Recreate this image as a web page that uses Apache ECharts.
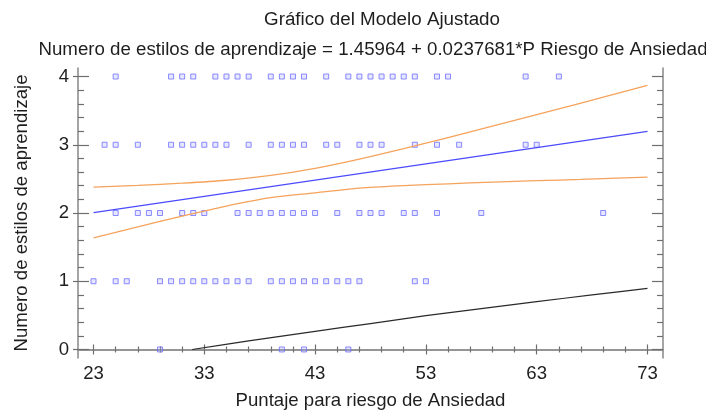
<!DOCTYPE html>
<html>
<head>
<meta charset="utf-8">
<script src="https://cdn.jsdelivr.net/npm/echarts@6/dist/echarts.min.js"></script>
<style>
  html, body { margin: 0; padding: 0; background: #ffffff; }
  #chart { width: 706px; height: 412px; }
</style>
</head>
<body>
<div id="chart"></div>
<script>
// Observed learning-style counts (y) against anxiety-risk score (x), grouped by count
const scoresAt4 = [25, 30, 31, 32, 34, 35, 36, 37, 39, 40, 41, 42, 44, 46, 47, 48, 49, 50, 51, 52, 54, 55, 62, 65];
const scoresAt3 = [24, 25, 27, 30, 31, 32, 33, 34, 35, 37, 39, 40, 41, 42, 44, 45, 47, 48, 49, 52, 54, 56, 62, 63];
const scoresAt2 = [25, 27, 28, 29, 31, 32, 33, 36, 37, 38, 39, 40, 41, 42, 43, 45, 47, 48, 49, 51, 52, 54, 58, 69];
const scoresAt1 = [23, 25, 26, 29, 30, 31, 32, 33, 34, 35, 36, 37, 39, 40, 41, 42, 43, 44, 45, 46, 47, 52, 53];
const scoresAt0 = [29, 40, 42, 46];

// Fitted model: y = 1.45964 + 0.0237681 * x, drawn over the score range
const intercept = 1.45964;
const slope = 0.0237681;
const fitX = [23, 73];

// Confidence limits for the mean response
const bandX = [23, 27, 31, 35, 39, 43, 47, 51, 55, 59, 63, 67, 73];
const bandUpper = [2.38, 2.405, 2.437, 2.48, 2.55, 2.654, 2.79, 2.943, 3.106, 3.272, 3.441, 3.612, 3.87];
const bandLower = [1.635, 1.797, 1.955, 2.102, 2.224, 2.295, 2.364, 2.401, 2.428, 2.452, 2.473, 2.492, 2.525];

// Lower prediction limit
const predX = [31.9, 37, 43, 48, 53, 58, 63, 68, 73];
const predLower = [0.0, 0.125, 0.266, 0.38, 0.495, 0.598, 0.70, 0.80, 0.895];

// Axis ticks
const xMajor = [23, 33, 43, 53, 63, 73];
const yMajor = [0, 1, 2, 3, 4];

const titleText = 'Gráfico del Modelo Ajustado';
const subtitleText = 'Numero de estilos de aprendizaje = 1.45964 + 0.0237681*P Riesgo de Ansiedad';
const xName = 'Puntaje para riesgo de Ansiedad';
const yName = 'Numero de estilos de aprendizaje';

const xMinor = [];
for (let v = 25; v <= 73; v += 2) if (!xMajor.includes(v)) xMinor.push(v);
const yMinor = [];
for (let i = 1; i < 20; i++) if (i % 5 !== 0) yMinor.push(+(i * 0.2).toFixed(1));

const FONT = '"Liberation Sans", Arial, sans-serif';
const FS = 18.6;
const X_MIN = 21.6, X_MAX = 74.4, Y_MIN = -0.125, Y_MAX = 4.125;
// Fixed plot box; outer bounds adjustment off so names and labels never squeeze it
const gridBox = { left: 78, right: 43, top: 68, bottom: 54, containLabel: false, outerBoundsMode: 'none' };
const frame = { show: true, lineStyle: { color: '#8f8f8f', width: 1.6 } };
const tickColor = '#6e6e6e';
const textColor = '#1e1e1e';

const points = [];
[[scoresAt0, 0], [scoresAt1, 1], [scoresAt2, 2], [scoresAt3, 3], [scoresAt4, 4]].forEach(([xs, y]) => {
  xs.forEach(x => points.push([x, y]));
});
const zip = (xs, ys) => xs.map((x, i) => [x, ys[i]]);
const fitLine = fitX.map(x => [x, intercept + slope * x]);

function xAx(grid, pos, opts) {
  return Object.assign({
    type: 'value', gridIndex: grid, position: pos, min: X_MIN, max: X_MAX,
    splitLine: { show: false }, axisLabel: { show: false }, axisLine: { show: false }
  }, opts);
}
function yAx(grid, pos, opts) {
  return Object.assign({
    type: 'value', gridIndex: grid, position: pos, min: Y_MIN, max: Y_MAX,
    splitLine: { show: false }, axisLabel: { show: false }, axisLine: { show: false }
  }, opts);
}

const chart = echarts.init(document.getElementById('chart'), null, { renderer: 'canvas' });
chart.setOption({
  animation: false,
  backgroundColor: '#ffffff',
  title: [
    { text: titleText, left: 377, top: 5, textAlign: 'center',
      textStyle: { fontFamily: FONT, fontSize: 18.8, fontWeight: 'normal', color: textColor } },
    { text: subtitleText, left: 368, top: 35, textAlign: 'center',
      textStyle: { fontFamily: FONT, fontSize: 18.7, fontWeight: 'normal', color: textColor } }
  ],
  grid: [
    Object.assign({}, gridBox),
    Object.assign({}, gridBox),
    Object.assign({}, gridBox)
  ],
  xAxis: [
    xAx(0, 'bottom', {
      axisLine: frame,
      axisTick: { inside: true, length: 5, customValues: xMajor, lineStyle: { color: tickColor, width: 1.2 } },
      axisLabel: { show: true, customValues: xMajor, margin: 6, fontFamily: FONT, fontSize: FS, color: textColor },
      name: xName, nameLocation: 'middle', nameGap: 33,
      nameTextStyle: { fontFamily: FONT, fontSize: FS, color: textColor }
    }),
    xAx(0, 'top', {
      axisLine: frame,
      axisTick: { inside: true, length: 5, customValues: xMajor, lineStyle: { color: tickColor, width: 1.2 } }
    }),
    xAx(1, 'bottom', {
      axisTick: { inside: true, length: 3, customValues: xMinor, lineStyle: { color: tickColor, width: 1.2 } }
    }),
    xAx(1, 'top', {
      axisTick: { inside: true, length: 3, customValues: xMinor, lineStyle: { color: tickColor, width: 1.2 } }
    }),
    xAx(2, 'bottom', { show: false })
  ],
  yAxis: [
    yAx(0, 'left', {
      axisLine: frame,
      axisTick: { inside: true, length: 11, customValues: yMajor, lineStyle: { color: tickColor, width: 1.2 } },
      axisLabel: { show: true, customValues: yMajor, margin: 9, fontFamily: FONT, fontSize: FS, color: textColor },
      name: yName, nameLocation: 'middle', nameGap: 47, nameRotate: 90,
      nameTextStyle: { fontFamily: FONT, fontSize: FS, color: textColor }
    }),
    yAx(0, 'right', {
      axisLine: frame,
      axisTick: { inside: true, length: 11, customValues: yMajor, lineStyle: { color: tickColor, width: 1.2 } }
    }),
    yAx(1, 'left', {
      axisTick: { inside: true, length: 6, customValues: yMinor, lineStyle: { color: tickColor, width: 1.2 } }
    }),
    yAx(1, 'right', {
      axisTick: { inside: true, length: 6, customValues: yMinor, lineStyle: { color: tickColor, width: 1.2 } }
    }),
    yAx(2, 'left', {
      axisTick: { inside: false, length: 5, customValues: yMajor, lineStyle: { color: tickColor, width: 1.2 } }
    })
  ],
  series: [
    {
      name: 'observaciones', type: 'scatter', xAxisIndex: 0, yAxisIndex: 0,
      symbol: 'rect', symbolSize: 5, data: points,
      itemStyle: { color: 'rgba(170,170,255,0.35)', borderColor: '#6f6fff', borderWidth: 1 },
      z: 3
    },
    {
      name: 'límite superior', type: 'line', xAxisIndex: 0, yAxisIndex: 0,
      data: zip(bandX, bandUpper), smooth: 0.3, showSymbol: false,
      lineStyle: { color: '#f5a35c', width: 1.3 }, z: 4
    },
    {
      name: 'límite inferior', type: 'line', xAxisIndex: 0, yAxisIndex: 0,
      data: zip(bandX, bandLower), smooth: 0.3, showSymbol: false,
      lineStyle: { color: '#f5a35c', width: 1.3 }, z: 4
    },
    {
      name: 'modelo ajustado', type: 'line', xAxisIndex: 0, yAxisIndex: 0,
      data: fitLine, showSymbol: false,
      lineStyle: { color: '#4b4bff', width: 1.3 }, z: 5
    },
    {
      name: 'límite de predicción', type: 'line', xAxisIndex: 0, yAxisIndex: 0,
      data: zip(predX, predLower), smooth: 0.3, showSymbol: false,
      lineStyle: { color: '#2a2a2a', width: 1.2 }, z: 4
    }
  ]
});
</script>
</body>
</html>
